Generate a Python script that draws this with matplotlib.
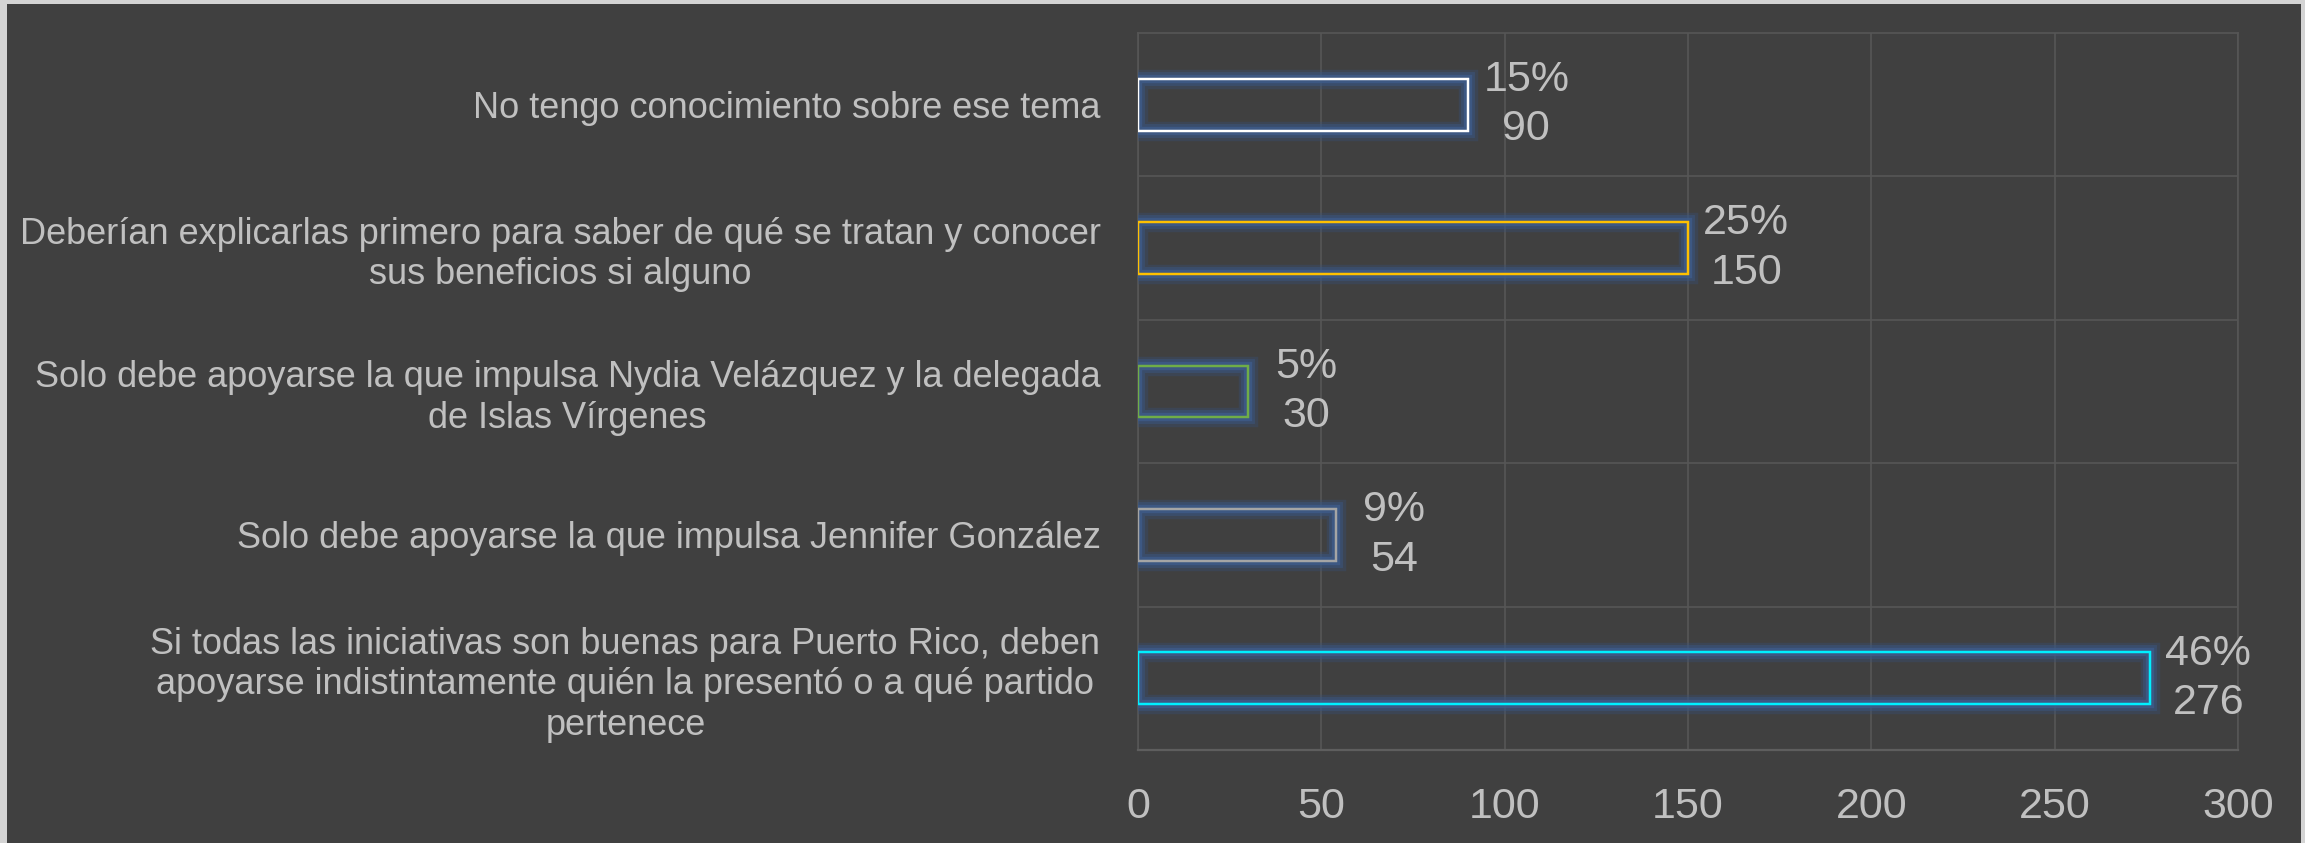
import matplotlib
matplotlib.use("Agg")
import matplotlib.pyplot as plt
import matplotlib.patheffects as pe
from matplotlib.patches import Rectangle

categories = [
    "No tengo conocimiento sobre ese tema",
    "Deberían explicarlas primero para saber de qué se tratan y conocer\nsus beneficios si alguno",
    "Solo debe apoyarse la que impulsa Nydia Velázquez y la delegada\nde Islas Vírgenes",
    "Solo debe apoyarse la que impulsa Jennifer González",
    "Si todas las iniciativas son buenas para Puerto Rico, deben\napoyarse indistintamente quién la presentó o a qué partido\npertenece",
]
counts = [90, 150, 30, 54, 276]
percents = [15, 25, 5, 9, 46]
edge_colors = ["#ffffff", "#ffc000", "#70ad47", "#a5a5a5", "#00f0ff"]
x_ticks = [0, 50, 100, 150, 200, 250, 300]

BG = "#404040"
TEXT = "#c0c0c0"
GRID = "#565656"

plt.rcParams["font.family"] = ["Liberation Sans", "DejaVu Sans"]

fig = plt.figure(figsize=(23.05, 8.43), dpi=100, facecolor="#d4d4d4")
fig.patches.append(Rectangle((7 / 2305, 0), 2294 / 2305, 1 - 4 / 843,
                             transform=fig.transFigure, facecolor=BG,
                             edgecolor="none", zorder=-5))
ax = fig.add_axes([1138 / 2305, 93 / 843, 1100 / 2305, 717 / 843])
ax.set_facecolor(BG)

y = list(range(len(categories)))
# soft blue glow around the outlined bars
glow = [
    pe.withStroke(linewidth=14, foreground="#36507a", alpha=0.35),
    pe.withStroke(linewidth=10, foreground="#3a5682", alpha=0.5),
    pe.withStroke(linewidth=6, foreground="#3e5c8a", alpha=0.8),
    pe.Normal(),
]
bars = ax.barh(y, counts, height=0.36, facecolor="none",
               edgecolor=edge_colors, linewidth=1.6, zorder=3)
for b in bars:
    b.set_path_effects(glow)

for yi, c, p in zip(y, counts, percents):
    ax.annotate(f"{p}%\n{c}", xy=(c, yi), xytext=(42, 0),
                textcoords="offset points", ha="center", va="center",
                fontsize=31, color=TEXT, linespacing=1.3, zorder=4)

ax.set_xlim(0, 300)
ax.set_ylim(len(categories) - 0.5, -0.5)
ax.set_xticks(x_ticks)
ax.set_xticklabels([str(t) for t in x_ticks])
ax.set_yticks(y)
ax.set_yticklabels(categories)
for lbl in ax.get_yticklabels():
    lbl.set_multialignment("center")
ax.tick_params(axis="x", length=0, pad=27, labelsize=31, labelcolor=TEXT)
ax.tick_params(axis="y", length=0, pad=27, labelsize=26, labelcolor=TEXT)

ax.grid(axis="x", color=GRID, linewidth=1.2, zorder=1)
for yb in [i + 0.5 for i in y[:-1]]:
    ax.axhline(yb, color=GRID, linewidth=1.2, zorder=1)
for s in ["top", "right", "left"]:
    ax.spines[s].set_color(GRID)
    ax.spines[s].set_linewidth(1.2)
ax.spines["bottom"].set_color("#5e5e5e")
ax.spines["bottom"].set_linewidth(1.6)

fig.savefig("out.png", dpi=100, facecolor=fig.get_facecolor())
plt.close(fig)
